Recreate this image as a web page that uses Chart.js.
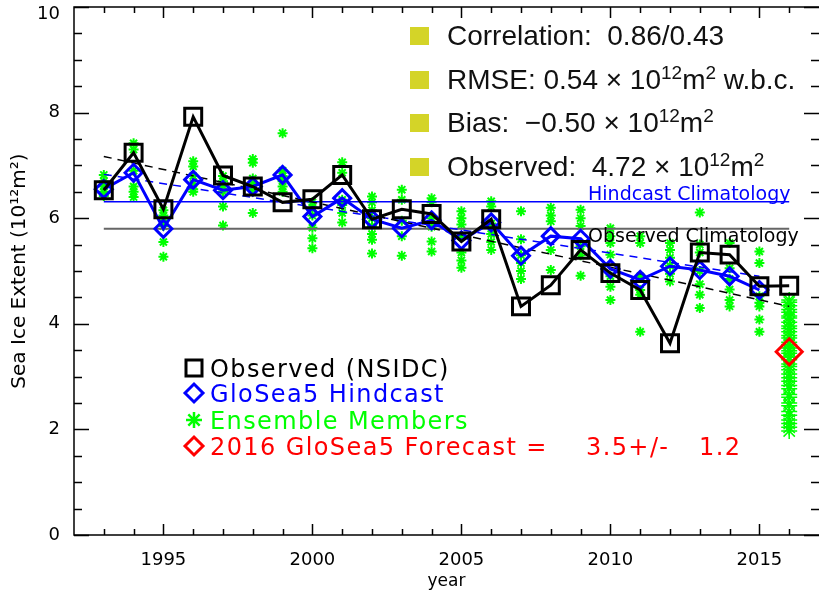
<!DOCTYPE html>
<html>
<head>
<meta charset="utf-8">
<script src="https://cdn.jsdelivr.net/npm/chart.js@4.4.1/dist/chart.umd.min.js"></script>
<style>
  html, body { margin: 0; padding: 0; background: #fff; }
</style>
</head>
<body>
<canvas id="chart" width="819" height="592"></canvas>
<script>
// Years of the hindcast period
const YEARS = [1993, 1994, 1995, 1996, 1997, 1998, 1999, 2000, 2001, 2002, 2003, 2004,
               2005, 2006, 2007, 2008, 2009, 2010, 2011, 2012, 2013, 2014, 2015];
const FORECAST_YEAR = 2016;

// Observed (NSIDC) extent, 1993-2016
const OBSERVED = [6.53, 7.24, 6.17, 7.92, 6.81, 6.60, 6.30, 6.36, 6.82, 5.98, 6.17, 6.08,
                  5.56, 5.98, 4.33, 4.73, 5.40, 4.96, 4.64, 3.63, 5.35, 5.31, 4.71, 4.72];
// GloSea5 hindcast ensemble mean, 1993-2015
const HINDCAST = [6.55, 6.86, 5.80, 6.73, 6.53, 6.60, 6.82, 6.03, 6.38, 5.98, 5.81, 5.96,
                  5.58, 5.92, 5.29, 5.66, 5.61, 5.04, 4.83, 5.09, 5.02, 4.90, 4.64];
const FORECAST = 3.47;

// Ensemble members per hindcast year (same order as YEARS)
const ENSEMBLE = [
  [6.82, 6.70, 6.60, 6.50, 6.42],
  [7.42, 7.30, 6.90, 6.60, 6.50, 6.40],
  [6.15, 6.05, 5.95, 5.85, 5.55, 5.27],
  [7.08, 6.98, 6.80, 6.65, 6.55, 6.50],
  [6.80, 6.70, 6.60, 6.50, 6.22, 5.86],
  [7.12, 7.05, 6.75, 6.65, 6.55, 6.10],
  [7.61, 6.90, 6.80, 6.70, 6.60, 6.50],
  [6.30, 6.20, 6.05, 5.82, 5.62, 5.43],
  [7.06, 6.86, 6.35, 6.25, 6.10, 5.92],
  [6.41, 6.30, 6.15, 6.00, 5.85, 5.70, 5.59, 5.33],
  [6.54, 6.35, 5.95, 5.66, 5.29],
  [6.38, 6.30, 6.00, 5.84, 5.56, 5.37],
  [6.13, 6.00, 5.88, 5.65, 5.35, 5.20, 5.06],
  [6.32, 6.22, 5.90, 5.70, 5.55, 5.40],
  [6.13, 5.60, 5.30, 5.15, 5.00, 4.85],
  [6.20, 6.05, 5.94, 5.40, 5.02],
  [6.16, 6.00, 5.85, 5.47, 5.30, 4.91],
  [5.81, 5.66, 5.53, 5.31, 4.90, 4.70, 4.45],
  [5.66, 5.53, 4.90, 4.64, 4.55, 3.85],
  [5.53, 5.40, 5.25, 5.10, 4.95, 4.80],
  [6.11, 5.50, 5.35, 5.00, 4.75, 4.55, 4.30],
  [5.53, 5.05, 4.85, 4.65, 4.45, 4.33],
  [5.37, 5.15, 4.52, 4.40, 4.33, 4.08, 3.85]
];
// 2016 forecast members
const ENSEMBLE_2016 = [4.45, 4.41, 4.34, 4.27, 4.22, 4.15, 4.11, 4.03, 3.96, 3.91, 3.85, 3.78,
                       3.73, 3.65, 3.61, 3.54, 3.49, 3.44, 3.37, 3.32, 3.24, 3.19, 3.13, 3.05,
                       2.98, 2.91, 2.83, 2.77, 2.66, 2.61, 2.50, 2.45, 2.34, 2.27, 2.18, 2.11,
                       2.04, 1.97];

// Climatologies and linear trends
const CLIM_YEARS = [1993, 2016];
const OBS_CLIM = 5.80;
const HC_CLIM = 6.31;
const OBS_TREND_YEARS = [1993, 2016];
const OBS_TREND = [7.17, 4.33];
const HC_TREND_YEARS = [1993, 2015];
const HC_TREND = [6.83, 4.90];

// Axis ticks
const X_TICKS = [1995, 2000, 2005, 2010, 2015];
const Y_TICKS = [0, 2, 4, 6, 8, 10];

const BLUE = '#0000ff';
const GREEN = '#00ff00';
const RED = '#ff0000';
const STAT_YELLOW = '#d4d428';

const pts = (xs, ys) => xs.map((x, i) => ({ x: x, y: ys[i] }));

const ensemblePoints = [];
YEARS.forEach((yr, i) => ENSEMBLE[i].forEach(v => ensemblePoints.push({ x: yr, y: v })));
const forecastMembers = ENSEMBLE_2016.map(v => ({ x: FORECAST_YEAR, y: v }));

const obsYears = YEARS.concat([FORECAST_YEAR]);

// frame, inward ticks, annotations, legend and statistics box
const decorPlugin = {
  id: 'decor',
  afterDatasetsDraw(chart) {
    const { ctx, chartArea: a, scales: { x, y } } = chart;
    ctx.save();

    // climatology labels
    ctx.textAlign = 'left';
    ctx.textBaseline = 'alphabetic';
    ctx.font = '19px "DejaVu Sans"';
    ctx.fillStyle = BLUE;
    ctx.fillText('Hindcast Climatology', x.getPixelForValue(2009.25), y.getPixelForValue(6.35));
    ctx.fillStyle = '#000';
    ctx.fillText('Observed Climatology', x.getPixelForValue(2009.25), y.getPixelForValue(5.55));

    // frame (right edge falls off the picture)
    ctx.strokeStyle = '#000';
    ctx.lineWidth = 1.5;
    ctx.beginPath();
    ctx.moveTo(a.right, a.top); ctx.lineTo(a.left, a.top);
    ctx.lineTo(a.left, a.bottom); ctx.lineTo(a.right, a.bottom);
    ctx.stroke();

    // y ticks, both sides
    for (let i = 0; i <= 20; i++) {
      const v = i * 0.5;
      const py = Math.round(y.getPixelForValue(v)) + 0.5;
      const len = (v % 2 === 0) ? 15 : 8;
      ctx.beginPath();
      ctx.moveTo(a.left, py); ctx.lineTo(a.left + len, py);
      ctx.moveTo(a.right, py); ctx.lineTo(a.right - len, py);
      ctx.stroke();
    }
    // x ticks, top and bottom
    for (let yr = 1993; yr <= 2016; yr++) {
      const px = Math.round(x.getPixelForValue(yr)) + 0.5;
      const len = (yr % 5 === 0) ? 11 : 6;
      ctx.beginPath();
      ctx.moveTo(px, a.bottom); ctx.lineTo(px, a.bottom - len);
      ctx.moveTo(px, a.top); ctx.lineTo(px, a.top + len);
      ctx.stroke();
    }

    // legend
    const lx = a.left + 120;
    const rows = [
      { text: ['Observed (NSIDC)'], color: '#000', mark: 'square' },
      { text: ['GloSea5 Hindcast'], color: BLUE, mark: 'diamond' },
      { text: ['Ensemble Members'], color: GREEN, mark: 'star' },
      { text: ['2016 GloSea5 Forecast =', '3.5+/-', '1.2'], at: [0, 376, 489], color: RED, mark: 'diamond' }
    ];
    const baselines = [377, 402, 429, 455];
    ctx.font = '24px "DejaVu Sans"';
    ctx.letterSpacing = '1.4px';
    rows.forEach((r, i) => {
      const cy = baselines[i] - 9;
      ctx.strokeStyle = r.color;
      ctx.lineWidth = r.mark === 'star' ? 2.5 : 3;
      ctx.beginPath();
      if (r.mark === 'square') {
        ctx.rect(lx - 8, cy - 8, 16, 16);
      } else if (r.mark === 'diamond') {
        ctx.moveTo(lx - 9, cy); ctx.lineTo(lx, cy - 9);
        ctx.lineTo(lx + 9, cy); ctx.lineTo(lx, cy + 9); ctx.closePath();
      } else {
        for (let k = 0; k < 4; k++) {
          const ang = k * Math.PI / 4;
          ctx.moveTo(lx - 8 * Math.cos(ang), cy - 8 * Math.sin(ang));
          ctx.lineTo(lx + 8 * Math.cos(ang), cy + 8 * Math.sin(ang));
        }
      }
      ctx.stroke();
      ctx.fillStyle = r.color;
      r.text.forEach((t, k) => {
        const off = r.at ? r.at[k] : 0;
        ctx.fillText(t, lx + 16 + off, baselines[i]);
      });
    });
    ctx.letterSpacing = '0px';

    // statistics box
    const stats = [
      [['Correlation:  0.86/0.43']],
      [['RMSE: 0.54 \u00d7 10'], ['12', 1], ['m'], ['2', 1], [' w.b.c.']],
      [['Bias:  \u22120.50 \u00d7 10'], ['12', 1], ['m'], ['2', 1]],
      [['Observed:  4.72 \u00d7 10'], ['12', 1], ['m'], ['2', 1]]
    ];
    const sBase = [45, 89, 132, 176];
    stats.forEach((parts, i) => {
      ctx.fillStyle = STAT_YELLOW;
      ctx.fillRect(410, sBase[i] - 18, 19, 18);
      ctx.fillStyle = '#111';
      let px = 447;
      parts.forEach(p => {
        const sup = p[1] === 1;
        ctx.font = sup ? '19px "Liberation Sans"' : '28px "Liberation Sans"';
        ctx.fillText(p[0], px, sBase[i] - (sup ? 10 : 0));
        px += ctx.measureText(p[0]).width;
      });
    });

    ctx.restore();
  }
};

const chart = new Chart(document.getElementById('chart'), {
  type: 'scatter',
  data: {
    datasets: [
      {
        label: 'Observed (NSIDC)',
        data: pts(obsYears, OBSERVED),
        showLine: true,
        borderColor: '#000',
        borderWidth: 3,
        pointStyle: 'rect',
        pointRadius: 12,
        pointBorderWidth: 3,
        pointBackgroundColor: 'rgba(0,0,0,0)',
        pointBorderColor: '#000',
        order: 0
      },
      {
        label: 'GloSea5 Hindcast',
        data: pts(YEARS, HINDCAST),
        showLine: true,
        borderColor: BLUE,
        borderWidth: 3,
        pointStyle: 'rectRot',
        pointRadius: 8.5,
        pointBorderWidth: 3,
        pointBackgroundColor: 'rgba(0,0,0,0)',
        pointBorderColor: BLUE,
        order: 1
      },
      {
        label: '2016 GloSea5 Forecast',
        data: [{ x: FORECAST_YEAR, y: FORECAST }],
        pointStyle: 'rectRot',
        pointRadius: 13,
        pointBorderWidth: 3,
        pointBackgroundColor: 'rgba(0,0,0,0)',
        pointBorderColor: RED,
        order: 2
      },
      {
        label: 'Observed trend',
        data: pts(OBS_TREND_YEARS, OBS_TREND),
        showLine: true,
        borderColor: '#000',
        borderWidth: 1.5,
        borderDash: [8, 6],
        pointRadius: 0,
        order: 3
      },
      {
        label: 'Hindcast trend',
        data: pts(HC_TREND_YEARS, HC_TREND),
        showLine: true,
        borderColor: BLUE,
        borderWidth: 1.5,
        borderDash: [8, 6],
        pointRadius: 0,
        order: 3
      },
      {
        label: 'Hindcast Climatology',
        data: pts(CLIM_YEARS, [HC_CLIM, HC_CLIM]),
        showLine: true,
        borderColor: BLUE,
        borderWidth: 1.5,
        pointRadius: 0,
        order: 4
      },
      {
        label: 'Observed Climatology',
        data: pts(CLIM_YEARS, [OBS_CLIM, OBS_CLIM]),
        showLine: true,
        borderColor: '#666',
        borderWidth: 2,
        pointRadius: 0,
        order: 4
      },
      {
        label: 'Ensemble Members',
        data: ensemblePoints,
        pointStyle: 'star',
        pointRadius: 5,
        pointBorderWidth: 2,
        pointBorderColor: GREEN,
        pointBackgroundColor: GREEN,
        order: 5
      },
      {
        label: '2016 Members',
        data: forecastMembers,
        pointStyle: 'star',
        pointRadius: 8,
        pointBorderWidth: 1.5,
        pointBorderColor: GREEN,
        pointBackgroundColor: GREEN,
        order: 5
      }
    ]
  },
  options: {
    responsive: false,
    animation: false,
    layout: { autoPadding: false, padding: { top: 7, right: 0, left: 0, bottom: 0 } },
    plugins: {
      legend: { display: false },
      tooltip: { enabled: false }
    },
    scales: {
      x: {
        type: 'linear',
        min: 1992,
        max: 2017,
        afterFit: s => {
          s.height = 57;
          s.paddingLeft = 0; s.paddingRight = 0;
        },
        afterBuildTicks: s => { s.ticks = X_TICKS.map(v => ({ value: v })); },
        grid: { display: false },
        border: { display: false },
        ticks: {
          color: '#000',
          font: { family: 'DejaVu Sans', size: 18 },
          padding: 7,
          maxRotation: 0,
          autoSkip: false,
          callback: v => String(v)
        },
        title: {
          display: true,
          text: 'year',
          color: '#000',
          font: { family: 'DejaVu Sans', size: 17 },
          padding: 0
        }
      },
      y: {
        min: 0,
        max: 10,
        afterFit: s => {
          s.width = 74;
          s.paddingTop = 0; s.paddingBottom = 0;
        },
        afterBuildTicks: s => { s.ticks = Y_TICKS.map(v => ({ value: v })); },
        grid: { display: false },
        border: { display: false },
        ticks: {
          color: '#000',
          font: { family: 'DejaVu Sans', size: 18, lineHeight: 0.85 },
          padding: 6,
          callback: v => (v === 10 ? ['', '10'] : String(v))
        },
        title: {
          display: true,
          text: 'Sea Ice Extent (10\u00b9\u00b2m\u00b2)',
          color: '#000',
          font: { family: 'DejaVu Sans', size: 20 },
          padding: { top: 8, bottom: 0 }
        }
      }
    }
  },
  plugins: [decorPlugin]
});
</script>
</body>
</html>
